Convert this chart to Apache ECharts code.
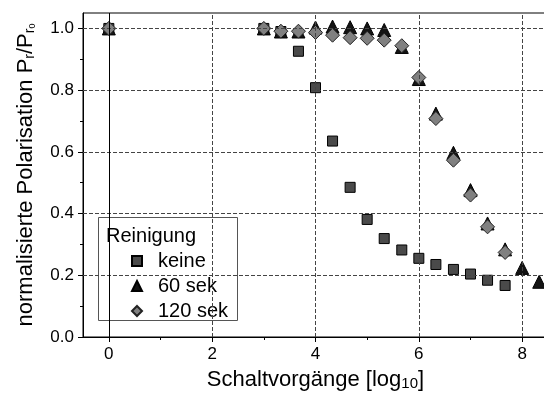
<!DOCTYPE html>
<html><head><meta charset="utf-8">
<script src="https://cdn.jsdelivr.net/npm/echarts@6/dist/echarts.min.js"></script>
<style>html,body{margin:0;padding:0;background:#fff}#c{width:544px;height:399px}</style>
</head><body><div id="c"></div>
<script>
const seriesNames = ['keine', '60 sek', '120 sek'];
const keineX = [0, 3, 3.33, 3.67, 4, 4.33, 4.67, 5, 5.33, 5.67, 6, 6.33, 6.67, 7, 7.33, 7.67];
const keineY = [1.0, 1.0, 0.99, 0.926, 0.808, 0.635, 0.485, 0.381, 0.319, 0.282, 0.255, 0.235, 0.219, 0.204, 0.184, 0.167];
const sek60X = [0, 3, 3.33, 3.67, 4, 4.33, 4.67, 5, 5.33, 5.67, 6, 6.33, 6.67, 7, 7.33, 7.67, 8, 8.33];
const sek60Y = [1.0, 1.0, 0.99, 0.99, 1.003, 1.006, 1.004, 1.0, 0.995, 0.94, 0.836, 0.724, 0.597, 0.476, 0.368, 0.284, 0.224, 0.179];
const sek120X = [0, 3, 3.33, 3.67, 4, 4.33, 4.67, 5, 5.33, 5.67, 6, 6.33, 6.67, 7, 7.33, 7.67];
const sek120Y = [1.0, 1.0, 0.991, 0.991, 0.987, 0.978, 0.970, 0.968, 0.962, 0.944, 0.841, 0.708, 0.573, 0.46, 0.357, 0.274];
const xTickLabels = [0, 2, 4, 6, 8];
const xMinorTicks = [1, 3, 5, 7];
const yTickLabels = [0, 0.2, 0.4, 0.6, 0.8, 1.0];
const yMinorTicks = [0.1, 0.3, 0.5, 0.7, 0.9];
const legendTitle = 'Reinigung';
const xName = '{a|Schaltvorgänge [log}{s|10}{a|]}';
const yName = '{a|normalisierte Polarisation P}{s|r}{a|/P}{s|r}{t|0}';

const zip = (xs, ys) => xs.map((x, i) => [x, ys[i]]);
const FONT = '"Liberation Sans", Arial, sans-serif';

const yRich = {
  a: {fontSize: 22, lineHeight: 22, color: '#000', fontFamily: FONT, verticalAlign: 'top'},
  s: {fontSize: 14, lineHeight: 14, color: '#000', fontFamily: FONT, verticalAlign: 'bottom', padding: [24, 0, 0, 0]},
  t: {fontSize: 9, lineHeight: 9, color: '#000', fontFamily: FONT, verticalAlign: 'bottom', padding: [24, 0, 0, 0]}
};
const xRich = {
  a: {fontSize: 22, lineHeight: 22, color: '#000', fontFamily: FONT, verticalAlign: 'top'},
  s: {fontSize: 15, lineHeight: 15, color: '#000', fontFamily: FONT, verticalAlign: 'bottom', padding: [32, 0, 0, 0]}
};

const chart = echarts.init(document.getElementById('c'), null, {renderer: 'canvas'});
const gridData = [];
xTickLabels.filter(v => v !== 0).forEach(v => gridData.push({xAxis: v}));
yTickLabels.filter(v => v !== 0).forEach(v => gridData.push({yAxis: v}));
gridData.push({xAxis: 0, lineStyle: {type: 'solid', color: '#000', width: 1}});

const option = {
  animation: false,
  textStyle: {fontFamily: FONT},
  grid: {left: 83, top: 13, right: -4, bottom: 62, containLabel: false, outerBoundsMode: 'none',
    show: true, borderColor: '#000', borderWidth: 1, backgroundColor: 'transparent'},
  xAxis: [{
    type: 'value', min: -0.5, max: 8.5,
    axisLine: {onZero: false, lineStyle: {color: '#000', width: 1}},
    axisTick: {customValues: xTickLabels, length: 5, lineStyle: {color: '#000'}},
    axisLabel: {customValues: xTickLabels, fontSize: 17, color: '#000', margin: 9, fontFamily: FONT},
    splitLine: {show: false},
    name: xName,
    nameLocation: 'middle', nameGap: 32, nameMoveOverlap: false,
    nameTextStyle: {fontSize: 22, color: '#000', fontFamily: FONT, rich: xRich}
  }, {
    type: 'value', min: -0.5, max: 8.5, position: 'bottom',
    axisLine: {show: false, onZero: false},
    axisTick: {customValues: xMinorTicks, length: 3, lineStyle: {color: '#000'}},
    axisLabel: {show: false}, splitLine: {show: false}
  }],
  yAxis: [{
    type: 'value', min: 0, max: 1.05,
    axisLine: {show: true, onZero: false, lineStyle: {color: '#000', width: 1}},
    axisTick: {show: true, customValues: yTickLabels, length: 5, lineStyle: {color: '#000'}},
    axisLabel: {customValues: yTickLabels, fontSize: 17, color: '#000', margin: 9, fontFamily: FONT,
      formatter: v => v.toFixed(1)},
    splitLine: {show: false},
    name: yName,
    nameLocation: 'middle', nameGap: 46, nameMoveOverlap: false,
    nameTextStyle: {fontSize: 22, color: '#000', fontFamily: FONT, rich: yRich}
  }, {
    type: 'value', min: 0, max: 1.05, position: 'left',
    axisLine: {show: false, onZero: false},
    axisTick: {show: true, customValues: yMinorTicks, length: 3, lineStyle: {color: '#000'}},
    axisLabel: {show: false}, splitLine: {show: false}
  }],
  legend: {
    data: seriesNames, orient: 'vertical', left: 126, top: 246,
    itemWidth: 10, itemHeight: 10, itemGap: 5,
    formatter: '{g|}{name}',
    textStyle: {fontSize: 20, color: '#000', fontFamily: FONT, rich: {g: {width: 11}}},
    z: 5
  },
  graphic: [
    {type: 'rect', z: 3, shape: {x: 98.5, y: 217.5, width: 139, height: 103}, style: {fill: '#fff', stroke: '#555', lineWidth: 1}},
    {type: 'text', z: 4, x: 106, y: 226, style: {text: legendTitle, fontSize: 20, fill: '#000', fontFamily: FONT}}
  ],
  series: [
    {type: 'scatter', name: '_grid', data: [], z: 1, silent: true,
     markLine: {silent: true, symbol: 'none', label: {show: false}, animation: false,
       lineStyle: {type: [4, 2], color: '#444', width: 1}, data: gridData}},
    {type: 'scatter', name: seriesNames[0], data: zip(keineX, keineY), symbol: 'rect', symbolSize: 10, z: 2,
     itemStyle: {color: '#4a4a4a', borderColor: '#000', borderWidth: 1, opacity: 1}},
    {type: 'scatter', name: seriesNames[1], data: zip(sek60X, sek60Y), symbol: 'triangle', symbolSize: 13, z: 2,
     itemStyle: {color: '#141414', borderColor: '#000', borderWidth: 1, opacity: 1}},
    {type: 'scatter', name: seriesNames[2], data: zip(sek120X, sek120Y), symbol: 'diamond', symbolSize: 14, z: 2,
     itemStyle: {color: '#808080', borderColor: '#222', borderWidth: 1, opacity: 1}}
  ]
};
chart.setOption(option);
</script></body></html>
